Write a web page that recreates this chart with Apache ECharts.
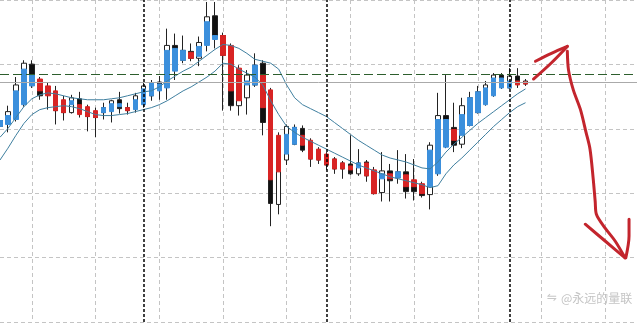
<!DOCTYPE html>
<html><head><meta charset="utf-8">
<script src="https://cdn.jsdelivr.net/npm/echarts@6/dist/echarts.min.js"></script>
<style>html,body{margin:0;padding:0;background:#fff;}#c{width:637px;height:327px;}</style>
</head><body><div id="c"></div>
<script>
// bar slots (hourly bars, chart continues past the last bar)
const categories = ['0','1','2','3','4','5','6','7','8','9','10','11','12','13','14','15','16','17','18','19','20','21','22','23','24','25','26','27','28','29','30','31','32','33','34','35','36','37','38','39','40','41','42','43','44','45','46','47','48','49','50','51','52','53','54','55','56','57','58','59','60','61','62','63','64','65','66','67','68','69','70','71','72','73','74','75','76','77','78','79','80'];

// Heiken-Ashi bodies (coloured)
const haOpen  = [198,200,205,220,239,246,239,234,225,220,220,218,214,212,213,218,217,215,220,229,234,237,254,265,273,269,280,286,290,280,257,240,240,250,235,189,170,180,189,184,175,170,165,161,158,156,161,154,145,150,146,149,144,140,137,150,177,195,189,199,212,220,229,237,237,244,243];
const haClose = [204,209,234,256,250,234,229,214,212,224,210,208,207,217,221,221,214,225,236,242,241,275,277,275,267,279,304,290,270,234,224,244,260,217,144,152,190,197,179,165,164,159,155,155,154,161,148,130,150,145,152,137,137,130,174,205,205,184,210,227,233,237,247,247,244,240,241];

// regular bars (hollow = up, black = down)
const barOpen  = [198,202,222,237,261,242,237,230,222,212,226,216,212,212,214,225,217,216,222,229,243,242,280,265,274,267,282,310,290,267,219,227,240,262,222,119,164,180,196,182,174,169,165,161,160,150,162,152,131,153,146,152,142,139,129,152,209,197,180,199,212,222,232,250,237,249,241];
const barClose = [204,213,240,262,247,229,230,214,212,227,214,208,207,217,224,216,214,229,239,242,237,280,267,275,267,283,309,288,270,219,242,250,260,202,120,172,198,197,174,165,164,159,155,155,150,161,148,130,153,143,152,132,132,128,179,209,192,179,219,227,233,240,250,244,249,242,244];
const barLow   = [192,192,203,218,237,225,215,200,204,211,207,193,187,205,202,211,210,212,217,224,225,225,245,262,264,259,274,277,214,214,209,210,238,189,97,109,159,179,172,157,160,154,150,145,149,148,142,129,122,122,140,125,123,126,114,148,176,172,176,198,211,219,228,236,236,237,239];
const barHigh  = [208,219,248,265,265,248,242,239,229,230,233,220,217,222,225,233,222,232,242,245,249,297,292,290,282,289,324,324,293,282,260,255,272,265,237,192,200,200,199,186,177,172,167,163,189,175,164,157,172,160,174,170,165,142,182,232,250,222,227,233,239,244,252,252,257,257,246];

// the two averages
const bandUpper = [187,196,207,218,226,230,232,231,229,227,226,225,225,225,226,227,229,231,233,234,238,244,249,254,258,264,270,276,281,280,277,272,266,264,262,256,240,227,220,216,212,208,202,196,190,184,179,174,169,166,164,162,159,156,155,162,172,180,187,194,201,207,213,219,225,231,236];
const bandLower = [164,176,189,201,210,215,217,218,219,218,216,213,210,209,209,210,211,213,215,217,220,224,229,234,238,243,248,254,262,261,256,252,248,240,224,210,198,192,187,183,179,175,171,167,163,159,156,153,150,147,145,143,141,139,136,138,150,159,166,174,182,190,198,205,212,218,222];

const levelDashed = 251;
const levelPrice = 243;
const sessionBreaks = ['18','41','64'];

// hand-drawn arrow strokes [slot, value]
const arrowShaft = [[67.0,246],[69.2,262],[71.25,279]];
const arrowWingTop = [[67.25,264],[69.25,272],[71.25,279]];
const arrowLong = [[71.25,274],[71.4,255],[72.0,235],[72.9,215],[73.6,192],[74.1,175],[74.5,145],[74.75,122],[74.9,109],[76.0,95],[77.25,82],[78.5,65]];
const arrowWingLeft = [[73.5,99],[76.0,82],[78.5,65]];
const arrowWingRight = [[79.0,104],[79.0,87],[78.6,65]];
const arrowStrokes = [arrowShaft, arrowWingTop, arrowLong, arrowWingLeft, arrowWingRight];

const watermark = '@永远的量联';

const chart = echarts.init(document.getElementById('c'), null, {renderer:'canvas'});
const realData = barOpen.map((o,i)=>[o, barClose[i], barLow[i], barHigh[i]]);
const haData = haOpen.map((o,i)=>[o, haClose[i], Math.min(o,haClose[i]), Math.max(o,haClose[i])]);

const series = [
  {
    type:'candlestick', data: realData, barWidth:5, z:2, silent:true,
    itemStyle:{color:'#ffffff', color0:'#111111', borderColor:'#222222', borderColor0:'#222222', borderWidth:1},
    markLine:{
      silent:true, symbol:'none', label:{show:false}, animation:false,
      data:[
        ...sessionBreaks.map(c=>({xAxis:c, lineStyle:{color:'#000', type:[3,2], width:1.5}})),
        {yAxis:levelPrice, lineStyle:{color:'#aaaaaa', type:'solid', width:1}},
        {yAxis:levelDashed, lineStyle:{color:'#2d5e2d', type:[9,4], width:1}}
      ]
    }
  },
  {
    type:'candlestick', data: haData, barWidth:5, z:3, silent:true,
    itemStyle:{color:'#3b8fdc', color0:'#d82424', borderColor:'#3b8fdc', borderColor0:'#d82424', borderWidth:1}
  },
  {type:'line', data: bandUpper, symbol:'none', z:4, silent:true, lineStyle:{color:'#3f7f9f', width:1}},
  {type:'line', data: bandLower, symbol:'none', z:4, silent:true, lineStyle:{color:'#3f7f9f', width:1}},
  ...arrowStrokes.map(s=>({type:'line', xAxisIndex:1, data:s, symbol:'none', smooth:0.3, z:6, silent:true,
      lineStyle:{color:'#c3252d', width:3, cap:'round', join:'round'}}))
];

chart.setOption({
  animation:false,
  backgroundColor:'#ffffff',
  grid:{left:-1, right:-2, top:-4, bottom:5, containLabel:false},
  xAxis:[
    {type:'category', data:categories, boundaryGap:false,
     axisLine:{show:false}, axisTick:{show:false}, axisLabel:{show:false},
     splitLine:{show:true, interval:(idx)=> (idx-4)%8===0, lineStyle:{color:'#c4c4c4', type:[4,3], width:1}}},
    {type:'value', min:0, max:80, show:false}
  ],
  yAxis:{type:'value', min:0, max:326, interval:65.2, axisLine:{show:false}, axisTick:{show:false}, axisLabel:{show:false},
     splitLine:{show:true, lineStyle:{color:'#c4c4c4', type:[4,3], width:1}}},
  graphic:[
    {type:'text', left:547, top:292, style:{text:'⇋', fill:'#c8c8c8', font:'12px DejaVu Sans'}},
    {type:'text', left:561, top:292, style:{text:watermark, fill:'#c4c4c4', font:'12px "Noto Sans CJK SC"'}}
  ],
  series
});
</script></body></html>
